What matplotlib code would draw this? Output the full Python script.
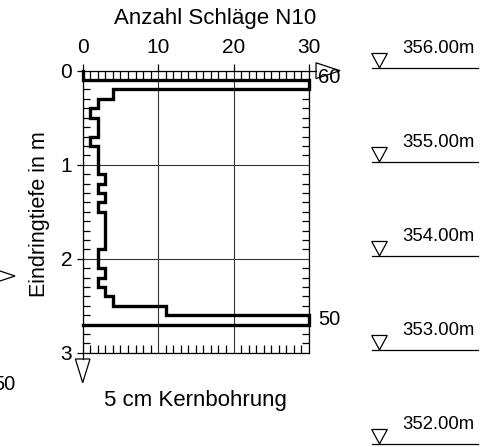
import numpy as np
import matplotlib
matplotlib.use("Agg")
import matplotlib.pyplot as plt
from matplotlib.patches import Polygon
from matplotlib.lines import Line2D
from matplotlib import transforms

plt.rcParams['font.family'] = ['Liberation Sans', 'DejaVu Sans']

# blows per 10 cm (N10), top to bottom
n10 = [0, 60, 4, 2, 1, 2, 2, 1, 2, 2, 2, 3, 2, 3, 2,
       3, 3, 3, 3, 2, 2, 3, 2, 3, 4, 11, 50]
step = 0.1
x_max = 30

ground_level = 355.97
levels = [356.0, 355.0, 354.0, 353.0, 352.0]

title = 'Anzahl Schläge N10'
xlabel = '5 cm Kernbohrung'
ylabel = 'Eindringtiefe in m'

W, H = 492, 447
fig = plt.figure(figsize=(W / 100, H / 100), dpi=100)
ax = fig.add_axes([82.7 / W, 1 - 352.7 / H, 226.3 / W, 282 / H])

# step profile, values above the scale are cut at x_max
n10 = np.array(n10, dtype=float)
edges = np.arange(len(n10) + 1) * step
xs = np.concatenate([[0], np.repeat(np.minimum(n10, x_max), 2), [0]])
ys = np.concatenate([[edges[0]], np.column_stack([edges[:-1], edges[1:]]).ravel(), [edges[-1]]])
ax.plot(xs, ys, color='black', lw=2.4, solid_joinstyle='miter', clip_on=False, zorder=5)

for i, v in enumerate(n10):
    if v > x_max:
        mid = edges[i] + step / 2
        if mid < 0.5:
            mid -= 0.08
        ax.text(x_max + 1.2, mid, '%d' % v, fontsize=14.5, ha='left', va='center')

ax.set_xlim(0, x_max)
ax.set_ylim(3, 0)
ax.xaxis.tick_top()
ax.set_xticks([0, 10, 20, 30])
ax.set_xticks(np.arange(0, 31, 1), minor=True)
ax.set_yticks([0, 1, 2, 3])
ax.set_yticks(np.arange(0, 3.01, 0.1), minor=True)
ax.tick_params(axis='x', which='major', top=True, bottom=False, direction='out',
               length=4.7, width=0.9, pad=5, labelsize=15)
ax.tick_params(axis='x', which='minor', top=True, bottom=True, direction='in',
               length=5.8, width=0.9)
ax.tick_params(axis='y', which='major', left=True, right=False, direction='out',
               length=4.5, width=0.9, pad=3, labelsize=15)
ax.tick_params(axis='y', which='minor', left=True, right=True, direction='in',
               length=5.3, width=0.9)
ax.grid(True, which='major', color='#333333', lw=0.8)
for s in ax.spines.values():
    s.set_linewidth(0.9)

# axis arrows
ax.add_line(Line2D([1, 1.031], [1, 1], transform=ax.transAxes, color='black', lw=0.9, clip_on=False))
ax.add_patch(Polygon([(1.031, 1.028), (1.031, 0.972), (1.137, 1.0)], closed=True,
                     transform=ax.transAxes, fc='white', ec='black', lw=0.9, clip_on=False))
ax.add_line(Line2D([0, 0], [0, -0.0223], transform=ax.transAxes, color='black', lw=0.9, clip_on=False))
ax.add_patch(Polygon([(-0.0323, -0.0223), (0.0323, -0.0223), (0, -0.1064)], closed=True,
                     transform=ax.transAxes, fc='white', ec='black', lw=0.9, clip_on=False))

fig.text(214.7 / W, 1 - 24 / H, title, fontsize=16, ha='center', va='baseline')
fig.text(195.8 / W, 1 - 405.7 / H, xlabel, fontsize=16, ha='center', va='baseline')
fig.text(45 / W, 1 - 214 / H, ylabel, fontsize=15.5, rotation=90,
         rotation_mode='anchor', ha='center', va='baseline')

# neighbouring column edge
fig.add_artist(Polygon([(-9 / W, 1 - 268 / H), (15 / W, 1 - 276 / H), (-9 / W, 1 - 284 / H)],
                       closed=True, transform=fig.transFigure, fc='white', ec='black', lw=0.9))
fig.text(15 / W, 1 - 384 / H, '50', fontsize=14.5, ha='right', va='center')

# elevation marks
tr = transforms.blended_transform_factory(fig.transFigure, ax.transData)
tri_h = 14.4 / 94
for lv in levels:
    d = ground_level - lv
    ax.add_line(Line2D([371.7 / W, 478.3 / W], [d, d], transform=tr, color='black', lw=0.9, clip_on=False))
    ax.add_patch(Polygon([(371.7 / W, d - tri_h), (387.3 / W, d - tri_h), (379.5 / W, d)], closed=True,
                         transform=tr, fc='white', ec='black', lw=0.9, clip_on=False))
    ax.annotate('%.2fm' % lv, xy=(402.7 / W, d), xycoords=tr, xytext=(0, 10.4),
                textcoords='offset points', fontsize=13.3, ha='left', va='baseline',
                annotation_clip=False)

fig.savefig('out.png', dpi=100)
